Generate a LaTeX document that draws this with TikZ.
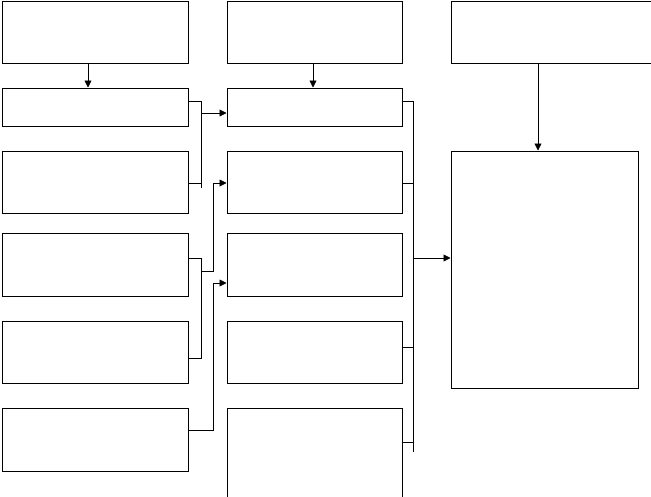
\documentclass[tikz,border=0pt]{standalone}
\usetikzlibrary{arrows.meta}
\begin{document}
\begin{tikzpicture}[x=1pt,y=-1pt,
	blk/.style n args={2}{draw, line width=1pt, inner sep=0pt, minimum width=#1, minimum height=#2},
	ln/.style={line width=0.8pt},
	arr/.style={ln, -{Triangle[length=7pt,width=7pt]}}]
	\useasboundingbox (0,0) rectangle (651,496);
	\clip (0,0) rectangle (651,496);
	% top row
	\node[blk={186}{62}] (a1) at (95,32) {};
	\node[blk={175}{62}] (b1) at (314.5,32) {};
	\node[blk={298}{62}] (c1) at (600,32) {};
	% two columns of blocks
	\foreach \n/\y/\h in {2/107/38, 3/182/62, 4/264.5/63, 5/352/62}{
		\node[blk={186}{\h}] (a\n) at (95,\y) {};
		\node[blk={175}{\h}] (b\n) at (314.5,\y) {};
	}
	\node[blk={186}{63}] (a6) at (95,439.5) {};
	\node[blk={175}{124}] (b6) at (314.5,470) {};
	\node[blk={187}{237}] (c2) at (544.5,269.5) {};
	% bracket columns
	\coordinate (k1) at (201,0);
	\coordinate (k2) at (213,0);
	\coordinate (k3) at (413,0);
	% down arrows
	\draw[arr] (a1.south -| 88,0) -- (a2.north -| 88,0);
	\draw[arr] (b1.south -| 313,0) -- (b2.north -| 313,0);
	\draw[arr] (c1.south -| 538,0) -- (c2.north -| 538,0);
	% first pair
	\draw[ln] (a2.east |- 0,101) -| (k1 |- 0,188);
	\draw[ln] (a3.east |- 0,183) -- (k1 |- 0,183);
	\draw[arr] (k1 |- 0,113) -- (b2.west |- 0,113);
	% second pair
	\draw[ln] (a4.east |- 0,258) -| (k1 |- 0,358) -- (a5.east |- 0,358);
	\draw[arr] (k1 |- 0,271) -| (k2 |- 0,183) -- (b3.west |- 0,183);
	% last block
	\draw[ln] (a6.east |- 0,430) -| (k2 |- 0,283);
	\draw[arr] (k2 |- 0,283) -- (b4.west |- 0,283);
	% right bracket
	\draw[ln] (b2.east |- 0,101) -| (k3 |- 0,452);
	\draw[ln] (b3.east |- 0,183) -- (k3 |- 0,183);
	\draw[ln] (b5.east |- 0,347) -- (k3 |- 0,347);
	\draw[ln] (b6.east |- 0,442) -- (k3 |- 0,442);
	\draw[arr] (k3 |- 0,258) -- (c2.west |- 0,258);
\end{tikzpicture}
\end{document}
